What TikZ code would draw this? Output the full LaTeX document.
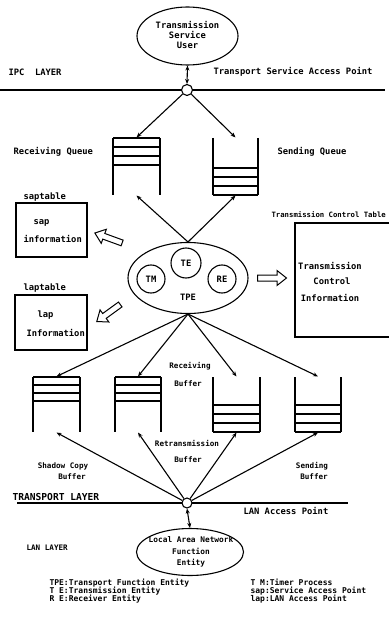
\documentclass[tikz,border=0pt]{standalone}
\usepackage{fontspec}
\newfontfamily\lbf{DejaVu Sans Mono}
\usetikzlibrary{shapes.geometric,arrows.meta}
\begin{document}
\begin{tikzpicture}[x=1pt,y=-1pt,line width=1.1pt,
  lbl/.style={font=\lbf\bfseries\fontsize{8.8}{10}\selectfont,inner sep=0,align=center},
  sml/.style={font=\lbf\bfseries\fontsize{7.6}{9}\selectfont,inner sep=0,align=center},
  big/.style={font=\lbf\bfseries\fontsize{9.6}{10}\selectfont,inner sep=0},
  leg/.style={font=\lbf\bfseries\fontsize{8}{8.3}\selectfont,inner sep=0,align=left,anchor=west},
  ell/.style={draw,ellipse,inner sep=0},
  ap/.style={draw,circle,fill=white,inner sep=0,minimum size=11pt},
  qbox/.style={inner sep=0,minimum width=47pt,minimum height=57pt},
  bbox/.style={inner sep=0,minimum width=47pt,minimum height=55pt},
  tbox/.style={draw,inner sep=0},
  ent/.style={draw,circle,inner sep=0,minimum size=28pt,font=\lbf\bfseries\fontsize{8.8}{10}\selectfont},
  tip/.style={-{Stealth[length=5pt,width=4pt]}},
  dtip/.style={{Stealth[length=5pt,width=4pt]}-{Stealth[length=5pt,width=4pt]}},
  hol/.pic={\draw[line width=1pt,line join=miter]
     (-14.5,-3) -- (5,-3) -- (5,-7.5) -- (14.5,0) -- (5,7.5) -- (5,3) -- (-14.5,3) -- cycle;}
]
\useasboundingbox (0,0) rectangle (388,631);

% ---------- IPC layer ----------
\node[ell,minimum width=101pt,minimum height=58pt] (tsu) at (187.5,36) {};
\node[lbl] (tsuT) at (187.5,35) {Transmission\\Service\\User};
\node[lbl,anchor=west] (ipcl) at (8,72) {IPC~~LAYER};
\node[lbl,anchor=west] (tsap) at (213,72) {Transport Service Access Point};
\draw (0,90) -- (385,90);
\node[ap] (cipc) at (187,90) {};
\draw[dtip] (tsu.south) -- (cipc.north);

% ---------- queues ----------
\node[qbox] (rq) at (136.5,166.5) {};
\draw (113,138) -- (113,195) (160,138) -- (160,195);
\draw (113,138) -- (160,138) (113,147) -- (160,147) (113,156) -- (160,156) (113,165) -- (160,165);
\node[qbox] (sq) at (235.5,166.5) {};
\draw (213,138) -- (213,195) (258,138) -- (258,195);
\draw (213,168) -- (258,168) (213,177) -- (258,177) (213,186) -- (258,186) (213,195) -- (258,195);
\node[lbl,anchor=west] (rql) at (13,152) {Receiving Queue};
\node[lbl,anchor=west] (sql) at (277,152) {Sending Queue};
\draw[tip] (cipc) -- (rq.north);
\draw[tip] (cipc) -- (sq.north);

% ---------- TPE ----------
\node[ell,minimum width=120pt,minimum height=71pt] (tpe) at (188,278) {};
\node[ent] (tm) at (151,279) {TM};
\node[ent,minimum size=30pt] (te) at (186,263) {TE};
\node[ent] (re) at (222,279) {RE};
\node[lbl] (tpeT) at (188,297) {TPE};
\draw[tip] (tpe.north) -- (rq.south);
\draw[tip] (tpe.north) -- (sq.south);

% ---------- tables ----------
\node[tbox,minimum width=71pt,minimum height=54pt] (sapbox) at (51.5,230) {};
\node[lbl,anchor=west] (sapl) at (23,197) {saptable};
\node[lbl,anchor=west] (sapa) at (33,223) {sap};
\node[lbl,anchor=west] (sapb) at (23,239) {information};
\node[tbox,minimum width=72pt,minimum height=55pt] (lapbox) at (51,322.5) {};
\node[lbl,anchor=west] (lapl) at (23,288) {laptable};
\node[lbl,anchor=west] (lapa) at (37,315) {lap};
\node[lbl,anchor=west] (lapb) at (26,333) {Information};
\node[tbox,minimum width=105pt,minimum height=114pt] (tct) at (347.5,280) {};
\node[lbl,anchor=west,font=\lbf\bfseries\fontsize{7.3}{9}\selectfont] (tctl) at (271,215) {Transmission Control Table};
\node[lbl] (tcta) at (330,266) {Transmission};
\node[lbl] (tctb) at (332,281) {Control};
\node[lbl] (tctc) at (330,298) {Information};

\pic[rotate=160] at (108.5,238) {hol};
\pic[rotate=216] at (108.5,313) {hol};
\pic at (272,278) {hol};

% ---------- buffers ----------
\node[bbox] (b1) at (56.5,404.5) {};
\draw (33,377) -- (33,432) (80,377) -- (80,432);
\draw (33,377) -- (80,377) (33,385) -- (80,385) (33,393) -- (80,393) (33,401) -- (80,401);
\node[bbox] (b2) at (138,404.5) {};
\draw (115,377) -- (115,432) (161,377) -- (161,432);
\draw (115,377) -- (161,377) (115,385) -- (161,385) (115,393) -- (161,393) (115,401) -- (161,401);
\node[bbox] (b3) at (236.5,404.5) {};
\draw (213,377) -- (213,432) (260,377) -- (260,432);
\draw (213,405) -- (260,405) (213,414) -- (260,414) (213,423) -- (260,423) (213,432) -- (260,432);
\node[bbox] (b4) at (318,404.5) {};
\draw (295,377) -- (295,432) (341,377) -- (341,432);
\draw (295,405) -- (341,405) (295,414) -- (341,414) (295,423) -- (341,423) (295,432) -- (341,432);

\draw[tip] (tpe.south) -- (b1.north);
\draw[tip] (tpe.south) -- (b2.north);
\draw[tip] (tpe.south) -- (b3.north);
\draw[tip] (tpe.south) -- (b4.north);

\node[sml] (rba) at (190,366) {Receiving};
\node[sml] (rbb) at (188,384) {Buffer};
\node[sml] (xba) at (187,443) {Retransmission};
\node[sml] (xbb) at (188,460) {Buffer};
\node[sml] (sba) at (63,466) {Shadow Copy};
\node[sml] (sbb) at (72,477) {Buffer};
\node[sml] (dba) at (312,466) {Sending};
\node[sml] (dbb) at (314,477) {Buffer};

% ---------- transport / LAN ----------
\node[big,anchor=west] (trl) at (12,497) {TRANSPORT LAYER};
\draw (17,503) -- (348,503);
\node[ap,minimum size=10pt] (cbot) at (187,503) {};
\node[lbl,anchor=west] (lanap) at (243,511) {LAN Access Point};
\draw[tip] (cbot) -- (b1.south);
\draw[tip] (cbot) -- (b2.south);
\draw[tip] (cbot) -- (b3.south);
\draw[tip] (cbot) -- (b4.south);

\node[ell,minimum width=107pt,minimum height=47pt] (lan) at (190,552) {};
\node[lbl,font=\lbf\bfseries\fontsize{7.8}{11.5}\selectfont] (lanT) at (191,552) {Local Area Network\\Function\\Entity};
\draw[dtip] (cbot.south) -- (lan.north);
\node[sml,anchor=west] (lanl) at (26,548) {LAN LAYER};

% ---------- legend ----------
\node[leg] (legL) at (49,591) {TPE:Transport Function Entity\\T E:Transmission Entity\\R E:Receiver Entity};
\node[leg] (legR) at (250,591) {T M:Timer Process\\sap:Service Access Point\\lap:LAN Access Point};
\end{tikzpicture}
\end{document}
